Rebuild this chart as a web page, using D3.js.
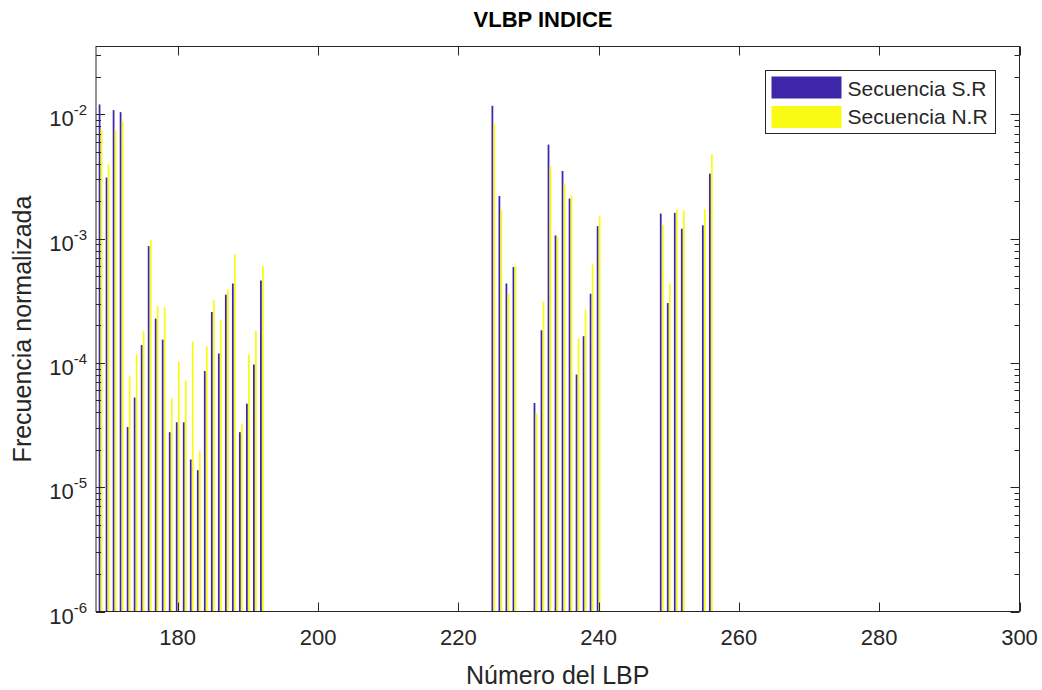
<!DOCTYPE html>
<html>
<head>
<meta charset="utf-8">
<script src="https://cdn.jsdelivr.net/npm/d3@7"></script>
<style>
  html, body { margin: 0; padding: 0; background: #fff; }
  svg { display: block; font-family: "Liberation Sans", Arial, sans-serif; }
</style>
</head>
<body>
<svg id="chart" width="1042" height="690"></svg>
<script>
// LBP bin numbers with non-zero frequency
const lbpBins = [169, 170, 171, 172, 173, 174, 175, 176, 177, 178, 179, 180,
                 181, 182, 183, 184, 185, 186, 187, 188, 189, 190, 191, 192,
                 225, 226, 227, 228, 231, 232, 233, 234, 235, 236, 237, 238, 239, 240,
                 249, 250, 251, 252, 255, 256];

// Normalised frequency, sequence S.R
const serieSR = [1.2e-2, 3.1e-3, 1.08e-2, 1.04e-2, 3.05e-5, 5.26e-5, 1.39e-4, 8.7e-4, 2.27e-4, 1.54e-4, 2.77e-5, 3.33e-5,
                 3.33e-5, 1.67e-5, 1.37e-5, 8.6e-5, 2.57e-4, 1.19e-4, 3.54e-4, 4.35e-4, 2.77e-5, 4.7e-5, 9.7e-5, 4.6e-4,
                 1.17e-2, 2.2e-3, 4.35e-4, 5.9e-4, 4.76e-5, 1.83e-4, 5.7e-3, 1.06e-3, 3.5e-3, 2.1e-3, 8.05e-5, 1.64e-4, 3.6e-4, 1.26e-3,
                 1.59e-3, 3.03e-4, 1.61e-3, 1.2e-3, 1.28e-3, 3.33e-3];

// Normalised frequency, sequence N.R
const serieNR = [7.5e-3, 3.96e-3, 7.4e-3, 8.8e-3, 7.8e-5, 1.17e-4, 1.81e-4, 9.75e-4, 2.87e-4, 2.8e-4, 5.2e-5, 1.03e-4,
                 7.2e-5, 1.48e-4, 1.95e-5, 1.36e-4, 3.2e-4, 2.2e-4, 3.89e-4, 7.5e-4, 3.2e-5, 1.17e-4, 1.81e-4, 6.0e-4,
                 8.4e-3, 1.71e-3, 3.6e-4, 6.0e-4, 3.9e-5, 3.13e-4, 3.82e-3, 1.03e-3, 2.75e-3, 2.23e-3, 1.57e-4, 2.68e-4, 6.2e-4, 1.51e-3,
                 1.29e-3, 4.35e-4, 1.72e-3, 1.69e-3, 1.72e-3, 4.77e-3];

const seriesNames = ["Secuencia S.R", "Secuencia N.R"];
const seriesColors = ["#3e26a8", "#f9fb15"];

const xTicks = [180, 200, 220, 240, 260, 280, 300];
const yTicks = [1e-6, 1e-5, 1e-4, 1e-3, 1e-2];
const yTickExponents = ["-6", "-5", "-4", "-3", "-2"];

const axisColor = "#262626";
const margin = { left: 96, right: 1019.5, top: 46.5, bottom: 611.5 };

const svg = d3.select("#chart");

const x = d3.scaleLinear().domain([168.35, 300]).range([margin.left, margin.right]);
const y = d3.scaleLog().domain([1e-6, 0.0351]).range([margin.bottom, margin.top]);

// grouped bar offsets within each bin
const groupOffset = d3.scaleBand().domain([0, 1]).range([-0.286, 0.286]).paddingInner(0).paddingOuter(0);
const barWidthUnits = 0.25;

svg.append("defs").append("clipPath").attr("id", "plotClip")
  .append("rect")
  .attr("x", margin.left).attr("y", margin.top)
  .attr("width", margin.right - margin.left).attr("height", margin.bottom - margin.top);

const plot = svg.append("g").attr("clip-path", "url(#plotClip)");

const seriesData = [serieSR, serieNR];
seriesData.forEach((vals, si) => {
  const rows = lbpBins.map((b, i) => ({ bin: b, v: vals[i] })).filter(d => d.v > 0);
  plot.append("g").selectAll("rect").data(rows).enter().append("rect")
    .attr("x", d => {
      const c = d.bin + groupOffset(si) + groupOffset.bandwidth() / 2;
      return x(c - barWidthUnits / 2);
    })
    .attr("width", d => x(d.bin + barWidthUnits) - x(d.bin))
    .attr("y", d => y(d.v))
    .attr("height", d => margin.bottom - y(d.v))
    .attr("fill", seriesColors[si]);
});

// axes box
const axes = svg.append("g");
axes.append("rect")
  .attr("x", margin.left).attr("y", margin.top)
  .attr("width", margin.right - margin.left).attr("height", margin.bottom - margin.top)
  .attr("fill", "none").attr("stroke", axisColor).attr("stroke-width", 1);

// x ticks (inward, bottom and top)
const majorLen = 9, minorLen = 5;
xTicks.forEach(t => {
  const px = Math.round(x(t)) + 0.5;
  axes.append("line").attr("x1", px).attr("x2", px)
    .attr("y1", margin.bottom).attr("y2", margin.bottom - majorLen)
    .attr("stroke", axisColor);
  axes.append("line").attr("x1", px).attr("x2", px)
    .attr("y1", margin.top).attr("y2", margin.top + majorLen)
    .attr("stroke", axisColor);
  axes.append("text")
    .attr("x", x(t)).attr("y", margin.bottom + 33)
    .attr("text-anchor", "middle")
    .attr("font-size", 22)
    .attr("fill", axisColor)
    .text(t);
});

// y ticks: decades and minor ticks, both sides
const yMinor = [];
for (let e = -6; e <= -2; e++) {
  for (let m = 2; m <= 9; m++) {
    const v = m * Math.pow(10, e);
    if (v <= y.domain()[1]) yMinor.push(v);
  }
}
yMinor.forEach(v => {
  const py = Math.round(y(v)) + 0.5;
  axes.append("line").attr("x1", margin.left).attr("x2", margin.left + minorLen)
    .attr("y1", py).attr("y2", py).attr("stroke", axisColor);
  axes.append("line").attr("x1", margin.right).attr("x2", margin.right - minorLen)
    .attr("y1", py).attr("y2", py).attr("stroke", axisColor);
});
yTicks.forEach((v, i) => {
  const py = Math.round(y(v)) + 0.5;
  axes.append("line").attr("x1", margin.left).attr("x2", margin.left + majorLen)
    .attr("y1", py).attr("y2", py).attr("stroke", axisColor);
  axes.append("line").attr("x1", margin.right).attr("x2", margin.right - majorLen)
    .attr("y1", py).attr("y2", py).attr("stroke", axisColor);
  const lab = axes.append("text")
    .attr("x", margin.left - 9).attr("y", y(v) + 12)
    .attr("text-anchor", "end")
    .attr("font-size", 22)
    .attr("fill", axisColor);
  lab.append("tspan").text("10");
  lab.append("tspan").attr("font-size", 15).attr("dy", -11).text(yTickExponents[i]);
});

// title and axis labels
svg.append("text")
  .attr("x", 543).attr("y", 27)
  .attr("text-anchor", "middle")
  .attr("font-size", 22).attr("font-weight", "bold")
  .attr("fill", "#000")
  .text("VLBP INDICE");

svg.append("text")
  .attr("x", (margin.left + margin.right) / 2).attr("y", 684)
  .attr("text-anchor", "middle")
  .attr("font-size", 25)
  .attr("fill", axisColor)
  .text("Número del LBP");

svg.append("text")
  .attr("transform", `translate(31,${(margin.top + margin.bottom) / 2}) rotate(-90)`)
  .attr("text-anchor", "middle")
  .attr("font-size", 25)
  .attr("fill", axisColor)
  .text("Frecuencia normalizada");

// legend
const legend = svg.append("g").attr("transform", "translate(765.5,70.5)");
legend.append("rect").attr("width", 230).attr("height", 63)
  .attr("fill", "#fff").attr("stroke", axisColor).attr("stroke-width", 1);
seriesNames.forEach((name, i) => {
  legend.append("rect")
    .attr("x", 6).attr("y", 6 + i * 29.5)
    .attr("width", 70).attr("height", 22)
    .attr("fill", seriesColors[i]);
  legend.append("text")
    .attr("x", 82).attr("y", 25 + i * 28)
    .attr("font-size", 21)
    .attr("fill", axisColor)
    .text(name);
});
</script>
</body>
</html>
